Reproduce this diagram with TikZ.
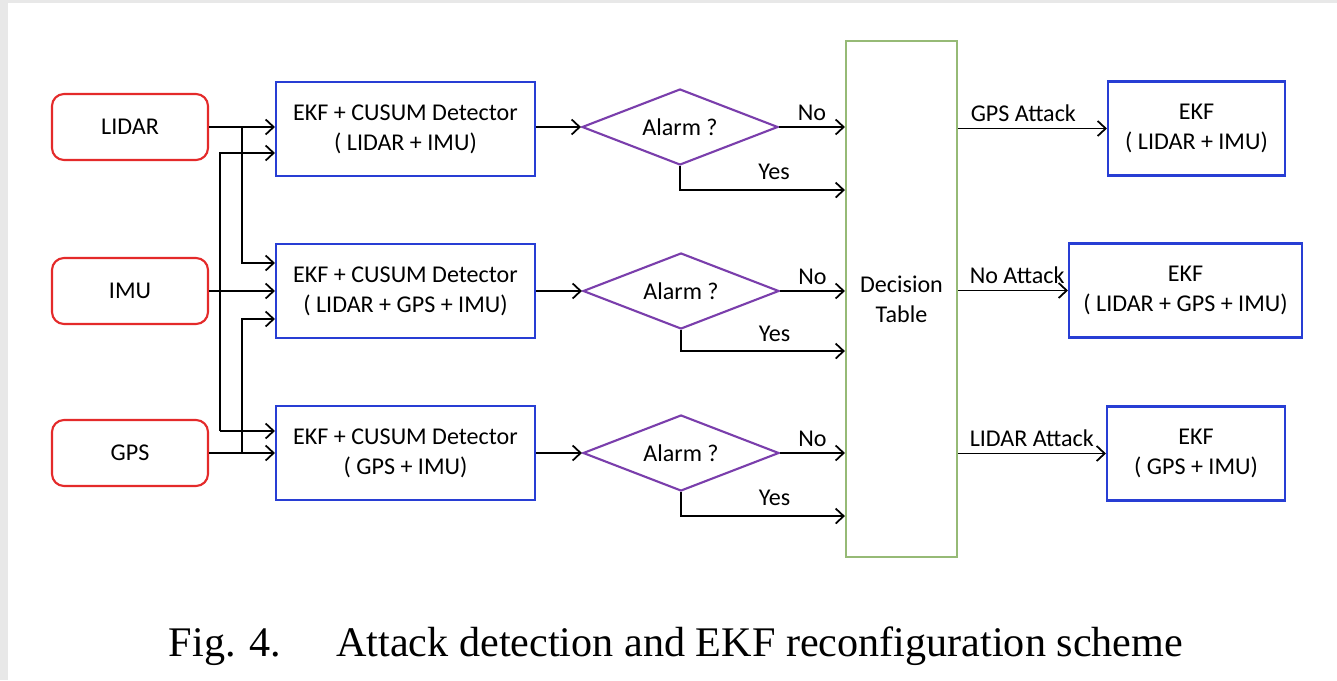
\documentclass[tikz,border=0pt]{standalone}
\usepackage{fontspec}
\setmainfont{Carlito}
\newfontfamily\capfont{Liberation Serif}
\usetikzlibrary{shapes.geometric,positioning,arrows.meta}
\definecolor{inred}{RGB}{228,42,42}
\definecolor{ekfblue}{RGB}{40,62,212}
\definecolor{alarmpurple}{RGB}{122,62,172}
\definecolor{tablegreen}{RGB}{150,186,118}
\begin{document}
\begin{tikzpicture}[font=\fontsize{13.7}{17}\selectfont,
  sensor/.style={draw=inred,line width=1.2pt,rounded corners=0.24cm,minimum width=3.12cm,minimum height=1.32cm},
  ekf/.style={draw=ekfblue,line width=1.2pt,minimum height=1.88cm,align=center},
  alarm/.style={draw=alarmpurple,line width=1.2pt,diamond,aspect=2.6,minimum width=3.92cm,minimum height=1.52cm,inner sep=0pt},
  wire/.style={-{Straight Barb[length=1.6mm,width=3mm]},line width=1pt}]
% Page
\fill[black!9] (0,0) rectangle (26.74,-13.6);
\fill[white] (0.16,-0.06) rectangle (26.74,-13.6);
\useasboundingbox (0,0) rectangle (26.74,-13.6);
% Sensors
\node[sensor] (lidar) at (2.6,-2.54) {LIDAR};
\node[sensor] (imu) at (2.6,-5.82) {IMU};
\node[sensor] (gps) at (2.6,-9.06) {GPS};
% Detectors
\node[ekf,minimum width=5.18cm] (det1) at (8.11,-2.58) {EKF + CUSUM Detector\\( LIDAR + IMU)};
\node[ekf,minimum width=5.18cm] (det2) at (8.11,-5.82) {EKF + CUSUM Detector\\( LIDAR + GPS + IMU)};
\node[ekf,minimum width=5.18cm] (det3) at (8.11,-9.06) {EKF + CUSUM Detector\\( GPS + IMU)};
% Alarms
\node[alarm] (al1) at (13.6,-2.54) {Alarm ?};
\node[alarm] (al2) at (13.62,-5.82) {Alarm ?};
\node[alarm] (al3) at (13.62,-9.06) {Alarm ?};
% Decision
\node[draw=tablegreen,line width=1.2pt,minimum width=2.22cm,minimum height=10.32cm,align=center] (dec) at (18.03,-5.98) {Decision\\Table};
% Reconfigured filters
\node[ekf,minimum width=3.54cm] (out1) at (23.93,-2.57) {EKF\\( LIDAR + IMU)};
\node[ekf,minimum width=4.66cm] (out2) at (23.71,-5.81) {EKF\\( LIDAR + GPS + IMU)};
\node[ekf,minimum width=3.56cm] (out3) at (23.92,-9.07) {EKF\\( GPS + IMU)};
% Sensor wiring
\coordinate (lsplit) at (4.84,-2.54);
\coordinate (gsplit) at (4.84,-9.06);
\coordinate (itop) at (4.40,-3.06);
\coordinate (ibot) at (4.40,-8.62);
\draw[wire] (lidar.east) -- (lidar.east -| det1.west);
\draw[wire] (lsplit) |- ([yshift=0.56cm]det2.west);
\draw[wire] (imu.east) -- (imu.east -| det2.west);
\draw[wire] (ibot) -- (itop) -- (itop -| det1.west);
\draw[wire] (ibot) -- (ibot -| det3.west);
\draw[wire] (gps.east) -- (gps.east -| det3.west);
\draw[wire] (gsplit) |- ([yshift=-0.56cm]det2.west);
% Detector to alarm
\draw[wire] (det1.east |- al1.west) -- (al1.west);
\draw[wire] (det2.east |- al2.west) -- (al2.west);
\draw[wire] (det3.east |- al3.west) -- (al3.west);
% Alarm to decision
\draw[wire] (al1.east) -- (al1.east -| dec.west) node[midway,above] {No};
\draw[wire] (al1.south) -- ++(0,-0.48) coordinate (y1) -- (y1 -| dec.west) node[pos=0.57,above,yshift=0.08cm] {Yes};
\draw[wire] (al2.east) -- (al2.east -| dec.west) node[midway,above] {No};
\draw[wire] (al2.south) -- ++(0,-0.42) coordinate (y2) -- (y2 -| dec.west) node[pos=0.57,above,yshift=0.06cm] {Yes};
\draw[wire] (al3.east) -- (al3.east -| dec.west) node[midway,above] {No};
\draw[wire] (al3.south) -- ++(0,-0.48) coordinate (y3) -- (y3 -| dec.west) node[pos=0.57,above,yshift=0.08cm] {Yes};
% Decision to filters
\draw[wire] (dec.east |- out1.west) -- (out1.west) node[pos=0,anchor=south west,xshift=0.12cm] {GPS Attack};
\draw[wire] (dec.east |- out2.west) -- (out2.west) node[pos=0,anchor=south west,xshift=0.1cm] {No Attack};
\draw[wire] (dec.east |- out3.west) -- (out3.west) node[pos=0,anchor=south west,xshift=0.1cm] {LIDAR Attack};
% Caption
\node[font=\capfont\fontsize{24}{28}\selectfont,anchor=base] (cap) at (13.52,-13.12) {Fig. 4.\hspace{1.3em}Attack detection and EKF reconfiguration scheme};
\end{tikzpicture}
\end{document}
